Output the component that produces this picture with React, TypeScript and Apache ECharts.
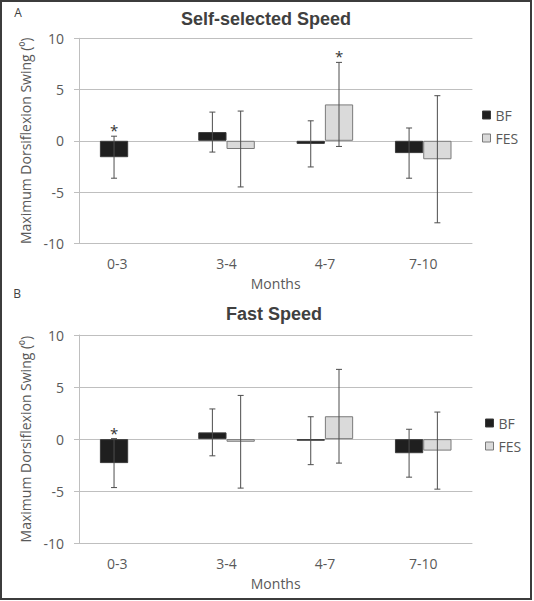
import React, { useEffect, useRef } from "react";
import * as echarts from "echarts";

const categories = ["0-3", "3-4", "4-7", "7-10"];
const seriesNames = ["BF", "FES"];

// Panel A: Self-selected Speed
const selfBF = [-1.6, 0.85, -0.3, -1.2];
const selfBFErr = [2.05, 1.95, 2.25, 2.45];
const selfFES: (number | null)[] = [null, -0.8, 3.55, -1.8];
const selfFESErr: (number | null)[] = [null, 3.7, 4.1, 6.2];
const selfBFSig = [1, 0, 0, 0];
const selfFESSig = [0, 0, 1, 0];

// Panel B: Fast Speed
const fastBF = [-2.3, 0.65, -0.15, -1.35];
const fastBFErr = [2.35, 2.25, 2.3, 2.3];
const fastFES: (number | null)[] = [null, -0.25, 2.2, -1.1];
const fastFESErr: (number | null)[] = [null, 4.45, 4.5, 3.7];
const fastBFSig = [1, 0, 0, 0];
const fastFESSig = [0, 0, 0, 0];

const yTicks = { min: -10, max: 10, interval: 5 };
const titles = ["Self-selected Speed", "Fast Speed"];
const panelLetters = ["A", "B"];
const yName = "Maximum Dorsiflexion Swing (\u2070)";
const xName = "Months";

const CAT_GAP = 0.425;
const FONT = "'Open Sans', sans-serif";
const TXT = "#595959";
const GRID = "#bfbfbf";

function errData(
  bf: number[],
  bfErr: number[],
  fes: (number | null)[],
  fesErr: (number | null)[],
  bfSig: number[],
  fesSig: number[]
) {
  const out: number[][] = [];
  categories.forEach((_, i) => {
    out.push([i, bf[i] - bfErr[i], bf[i] + bfErr[i], 0, bfSig[i]]);
    const f = fes[i];
    const fe = fesErr[i];
    if (f !== null && fe !== null) {
      out.push([i, f - fe, f + fe, 1, fesSig[i]]);
    }
  });
  return out;
}

function renderErr(params: any, api: any) {
  const cat = api.value(0);
  const low = api.value(1);
  const high = api.value(2);
  const grp = api.value(3);
  const sig = api.value(4);
  const band = api.size([1, 0])[0];
  const barW = (band * (1 - CAT_GAP)) / 2;
  const cx = api.coord([cat, 0])[0] + (grp === 0 ? -barW / 2 : barW / 2);
  const yT = api.coord([cat, high])[1];
  const yB = api.coord([cat, low])[1];
  const cap = 3;
  const st = { stroke: "#4d4d4d", lineWidth: 1 };
  const children: any[] = [
    { type: "line", shape: { x1: cx, y1: yT, x2: cx, y2: yB }, style: st },
    { type: "line", shape: { x1: cx - cap, y1: yT, x2: cx + cap, y2: yT }, style: st },
    { type: "line", shape: { x1: cx - cap, y1: yB, x2: cx + cap, y2: yB }, style: st },
  ];
  if (sig) {
    children.push({
      type: "text",
      style: {
        text: "*",
        x: cx,
        y: yT - 6,
        align: "center",
        verticalAlign: "middle",
        fontSize: 15,
        fontFamily: FONT,
        fill: "#333",
      },
    });
  }
  return { type: "group", children };
}

export default function App() {
  const ref = useRef<HTMLDivElement>(null);
  useEffect(() => {
    document.body.style.margin = "0";
    if (!ref.current) return;
    const chart = echarts.init(ref.current, null, { renderer: "svg" });

    const grids = [
      { left: 79, top: 38.3, width: 393.4, height: 205 },
      { left: 79, top: 335, width: 393.4, height: 208.3 },
    ];

    const xAxes = grids.map((_, gi) => ({
      type: "category",
      gridIndex: gi,
      data: categories,
      axisLine: { show: false },
      axisTick: { show: false },
      axisLabel: {
        fontSize: 14,
        fontFamily: FONT,
        color: TXT,
        margin: 13,
        formatter: (v: string, i: number) => (i === 0 ? `{a|${v}}` : v),
        rich: {
          a: { fontSize: 14, fontFamily: FONT, color: TXT, padding: [0, 22, 0, 0] },
        },
      },
      name: xName,
      nameLocation: "middle",
      nameGap: 33,
      nameTextStyle: { fontSize: 14, fontFamily: FONT, color: TXT },
    }));

    const yAxes = grids.map((_, gi) => ({
      type: "value",
      gridIndex: gi,
      min: yTicks.min,
      max: yTicks.max,
      interval: yTicks.interval,
      axisLine: { show: true, lineStyle: { color: GRID } },
      axisTick: { show: true, length: 5, lineStyle: { color: GRID } },
      splitLine: { show: true, lineStyle: { color: GRID } },
      axisLabel: { fontSize: 14, fontFamily: FONT, color: TXT, margin: 15 },
      name: yName,
      nameLocation: "middle",
      nameRotate: 90,
      nameGap: 44,
      nameTextStyle: { fontSize: 14, fontFamily: FONT, color: TXT },
    }));

    const bfStyle = { color: "#1f1f1f", borderColor: "#3a3a3a", borderWidth: 1 };
    const fesStyle = { color: "#dadada", borderColor: "#7a7a7a", borderWidth: 1 };

    const panels = [
      { bf: selfBF, fes: selfFES, err: errData(selfBF, selfBFErr, selfFES, selfFESErr, selfBFSig, selfFESSig) },
      { bf: fastBF, fes: fastFES, err: errData(fastBF, fastBFErr, fastFES, fastFESErr, fastBFSig, fastFESSig) },
    ];

    const series: any[] = [];
    panels.forEach((p, gi) => {
      series.push({
        type: "bar",
        name: seriesNames[0],
        xAxisIndex: gi,
        yAxisIndex: gi,
        data: p.bf,
        barGap: "0%",
        barCategoryGap: `${CAT_GAP * 100}%`,
        itemStyle: bfStyle,
      });
      series.push({
        type: "bar",
        name: seriesNames[1],
        xAxisIndex: gi,
        yAxisIndex: gi,
        data: p.fes.map((v) => (v === null ? "-" : v)),
        barGap: "0%",
        barCategoryGap: `${CAT_GAP * 100}%`,
        itemStyle: fesStyle,
      });
      series.push({
        type: "custom",
        name: "err" + gi,
        xAxisIndex: gi,
        yAxisIndex: gi,
        data: p.err,
        encode: { x: 0, y: [1, 2] },
        renderItem: renderErr,
        z: 10,
      });
    });

    const legendData = [
      { name: seriesNames[0], itemStyle: bfStyle },
      { name: seriesNames[1], itemStyle: fesStyle },
    ];

    chart.setOption({
      animation: false,
      backgroundColor: "#ffffff",
      title: [
        {
          text: titles[0],
          left: 181,
          top: 10,
          padding: 0,
          textStyle: { fontSize: 18, fontWeight: "bold", fontFamily: "'Liberation Sans', Arial, sans-serif", color: "#404040" },
        },
        {
          text: titles[1],
          left: 226,
          top: 305,
          padding: 0,
          textStyle: { fontSize: 18, fontWeight: "bold", fontFamily: "'Liberation Sans', Arial, sans-serif", color: "#404040" },
        },
      ],
      legend: [
        {
          orient: "vertical",
          left: 482,
          top: 108,
          padding: 0,
          itemWidth: 8,
          itemHeight: 8,
          itemGap: 9,
          selectedMode: false,
          icon: "rect",
          data: legendData,
          textStyle: { fontSize: 14, fontFamily: FONT, color: TXT },
        },
        {
          orient: "vertical",
          left: 485,
          top: 416,
          padding: 0,
          itemWidth: 8,
          itemHeight: 8,
          itemGap: 9,
          selectedMode: false,
          icon: "rect",
          data: legendData,
          textStyle: { fontSize: 14, fontFamily: FONT, color: TXT },
        },
      ],
      grid: grids,
      xAxis: xAxes,
      yAxis: yAxes,
      series,
      graphic: [
        {
          type: "rect",
          shape: { x: 1, y: 1, width: 530, height: 598 },
          style: { fill: "none", stroke: "#3c3c3c", lineWidth: 2 },
          silent: true,
          z: 100,
        },
        {
          type: "text",
          x: 18,
          y: 12,
          style: { text: panelLetters[0], align: "center", verticalAlign: "middle", fontSize: 12, fontFamily: FONT, fill: "#404040" },
        },
        {
          type: "text",
          x: 17,
          y: 293,
          style: { text: panelLetters[1], align: "center", verticalAlign: "middle", fontSize: 12, fontFamily: FONT, fill: "#404040" },
        },
      ],
    });
    return () => chart.dispose();
  }, []);
  return <div ref={ref} style={{ width: 534, height: 601 }} />;
}
